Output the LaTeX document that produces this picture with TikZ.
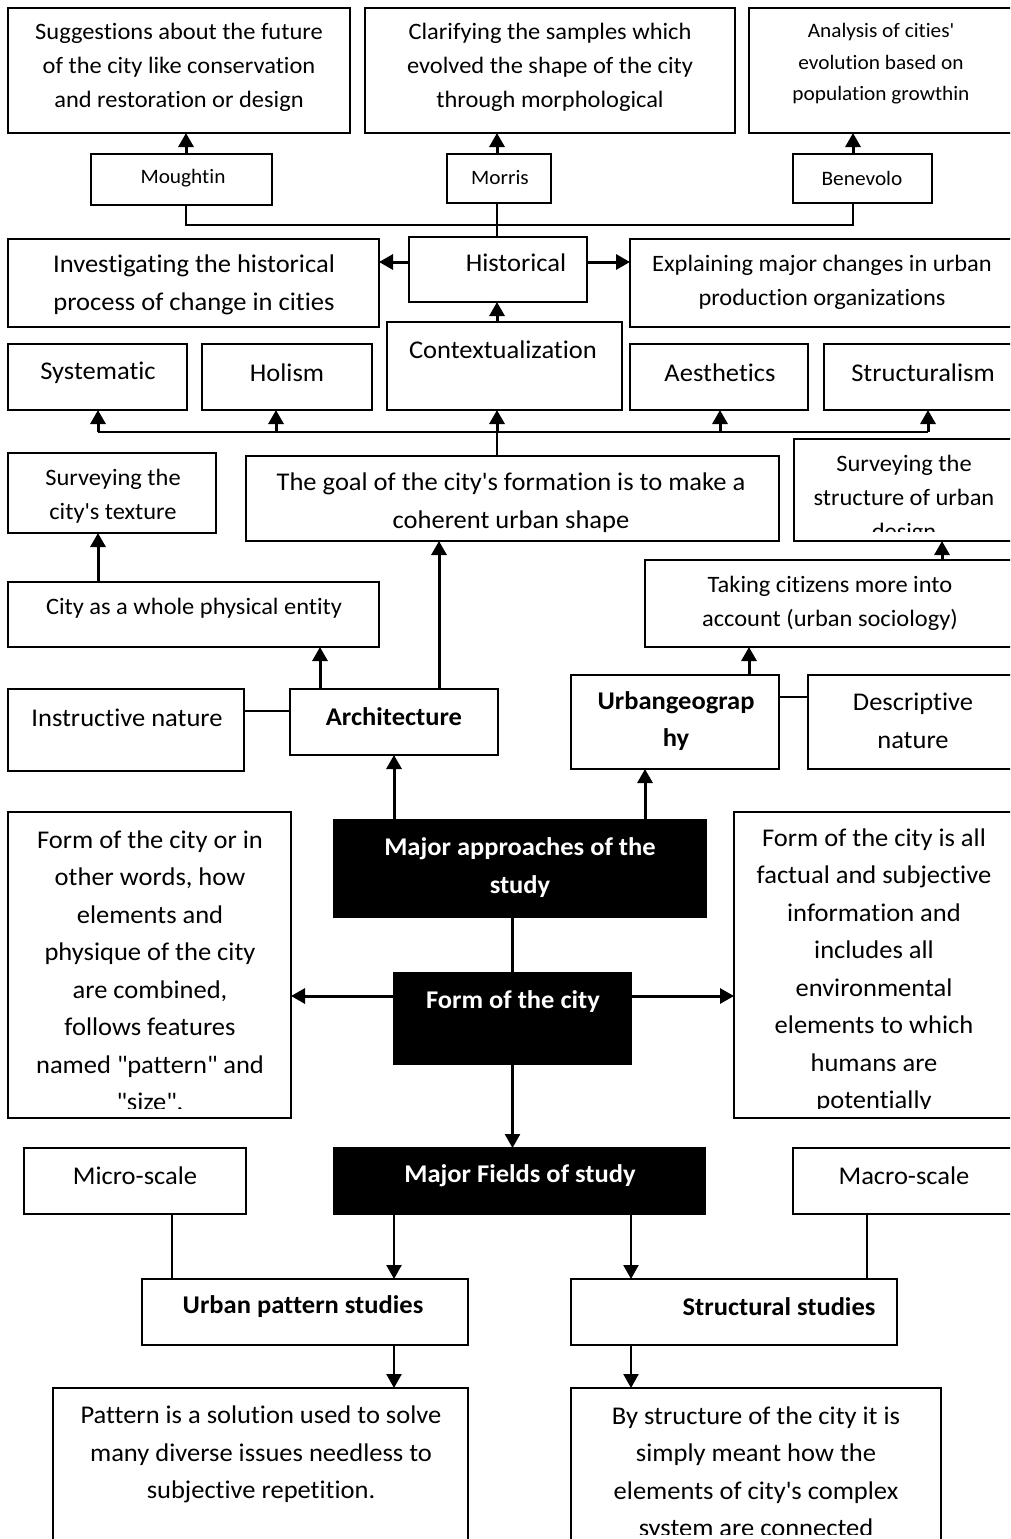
\documentclass[tikz,border=0pt]{standalone}
\usepackage{fontspec}
\setmainfont{Carlito}[FakeStretch=1.04,Ligatures={NoCommon}]
\usetikzlibrary{arrows.meta}
\newcommand\ap{\textquotesingle}
\newcommand\dq{\textquotedbl}
\newcommand\bx[6][]{\node[box,#1,minimum width={#5-#3},minimum height={#6-#4},anchor=north west] (#2) at (#3,#4) {};}
\tikzset{
 box/.style={draw=black, line width=1.8pt, fill=white, inner sep=0pt, outer sep=0pt, rectangle},
 blk/.style={fill=black},
 tx/.style={inner sep=0pt, align=center, text=black},
 tbig/.style={tx, font=\fontsize{25.5}{37.5}\selectfont},
 tbigb/.style={tx, font=\fontsize{25.5}{37.5}\selectfont\bfseries},
 twb/.style={tx, text=white, font=\fontsize{25.5}{38}\selectfont\bfseries},
 tmid/.style={tx, font=\fontsize{23.5}{34}\selectfont},
 tsml/.style={tx, font=\fontsize{20.5}{31.5}\selectfont},
 arr/.style={line width=3pt, -{Triangle[width=15pt,length=14pt]}},
 ln/.style={line width=1.4pt},
 busline/.style={line width=2.6pt},
}
\begin{document}
\begin{tikzpicture}[x=1pt,y=-1pt]
\useasboundingbox (0,0) rectangle (1010,1539);
\clip (0,0) rectangle (1010,1539);
% top row
\bx{sug}{8}{8}{350}{133}
\node[tmid] (tsug) at (179,67.5) {Suggestions about the future\\of the city like conservation\\and restoration or design};
\bx{cla}{365}{8}{735}{133}
\node[tmid] (tcla) at (550,67.5) {Clarifying the samples which\\evolved the shape of the city\\through morphological};
\bx{ana}{749}{8}{1025}{133}
\node[tsml] (tana) at (881,64) {Analysis of cities\ap\\evolution based on\\population growthin};
\bx{mou}{91}{154}{272}{205}
\node[tsml] (tmou) at (183,178) {Moughtin};
\bx{mor}{447}{154}{551}{203}
\node[tsml] (tmor) at (500,178) {Morris};
\bx{ben}{793}{154}{932}{203}
\node[tsml] (tben) at (862,178) {Benevolo};
\bx{his}{409}{237}{587}{302}
\node[tbig] (this) at (516,263) {Historical};
\bx{inv}{8}{239}{379}{327}
\node[tbig] (tinv) at (194,285) {Investigating the historical\\process of change in cities};
\bx{exp}{630}{239}{1025}{327}
\node[tmid] (texp) at (822,282.5) {Explaining major changes in urban\\production organizations};
% second row
\bx{sys}{8}{344}{187}{410}
\node[tbig] (tsys) at (98,373) {Systematic};
\bx{hol}{202}{344}{372}{410}
\node[tbig] (thol) at (287,373) {Holism};
\bx{con}{387}{322}{622}{410}
\node[tbig] (tcon) at (503,350) {Contextualization};
\bx{aes}{630}{344}{808}{410}
\node[tbig] (taes) at (720,373) {Aesthetics};
\bx{str}{824}{344}{1025}{410}
\node[tbig] (tstr) at (923,373) {Structuralism};
% third row
\bx{tex}{8}{453}{216}{533}
\node[tmid] (ttex) at (113,496.5) {Surveying the\\city\ap s texture};
\bx{goa}{246}{456}{779}{541}
\node[tbig] (tgoa) at (511,502.5) {The goal of the city\ap s formation is to make a\\coherent urban shape};
\bx{sud}{794}{439}{1025}{541}
\begin{scope}
\clip (794,439) rectangle (1025,531);
\node[tmid] (tsud) at (904,499) {Surveying the\\structure of urban\\design};
\end{scope}
\bx{cwh}{8}{582}{379}{647}
\node[tmid] (tcwh) at (194,608) {City as a whole physical entity};
\bx{tak}{645}{560}{1025}{647}
\node[tmid] (ttak) at (830,603.5) {Taking citizens more into\\account (urban sociology)};
\bx{ins}{8}{689}{244}{771}
\node[tbig] (tins) at (127,718) {Instructive nature};
\bx{arc}{290}{689}{498}{755}
\node[tbigb] (tarc) at (394,717) {Architecture};
\bx{urb}{571}{675}{779}{769}
\node[tbigb] (turb) at (676,721) {Urbangeograp\\hy};
\bx{des}{808}{675}{1025}{769}
\node[tbig] (tdes) at (913,721) {Descriptive\\nature};
% middle
\bx[blk]{map}{334}{820}{706}{917}
\node[twb] (tmap) at (520,867.5) {Major approaches of the\\study};
\bx{fl}{8}{812}{291}{1118}
\begin{scope}
\clip (8,812) rectangle (291,1108);
\node[tbig] (tfl) at (150,970.5) {Form of the city or in\\other words, how\\elements and\\physique of the city\\are combined,\\follows features\\named \dq pattern\dq{} and\\\dq size\dq.};
\end{scope}
\bx{fr}{734}{812}{1025}{1118}
\begin{scope}
\clip (734,812) rectangle (1025,1108);
\node[tbig] (tfr) at (874,970.5) {Form of the city is all\\factual and subjective\\information and\\includes all\\environmental\\elements to which\\humans are\\potentially};
\end{scope}
\bx[blk]{foc}{394}{973}{631}{1064}
\node[twb] (tfoc) at (513,1002) {Form of the city};
% bottom
\bx{mic}{24}{1148}{246}{1214}
\node[tbig] (tmic) at (135,1176) {Micro-scale};
\bx[blk]{mfs}{334}{1148}{705}{1214}
\node[twb] (tmfs) at (520,1176) {Major Fields of study};
\bx{mac}{793}{1148}{1025}{1214}
\node[tbig] (tmac) at (904,1176) {Macro-scale};
\bx{ups}{142}{1279}{468}{1345}
\node[tbigb] (tups) at (303,1307) {Urban pattern studies};
\bx{sst}{571}{1279}{897}{1345}
\node[tbigb] (tsst) at (779,1307) {Structural studies};
\bx{pat}{53}{1388}{468}{1560}
\node[tbig] (tpat) at (261,1454.5) {Pattern is a solution used to solve\\many diverse issues needless to\\subjective repetition.};
\bx{bys}{571}{1388}{941}{1560}
\begin{scope}
\clip (571,1388) rectangle (941,1534);
\node[tbig] (tbys) at (756,1473.5) {By structure of the city it is\\simply meant how the\\elements of city\ap s complex\\system are connected};
\end{scope}
% ---------- connectors ----------
\draw[arr] ([xshift=4.5pt]mou.north) -- ([xshift=4.5pt]mou.north |- sug.south);
\draw[arr] ([xshift=-2pt]mor.north) -- ([xshift=-2pt]mor.north |- cla.south);
\draw[arr] ([xshift=-9.5pt]ben.north) -- ([xshift=-9.5pt]ben.north |- ana.south);
\coordinate (hbus) at (0,225);
\draw[line width=2.2pt] ([xshift=4.5pt]mou.south) -- ([xshift=4.5pt]mou.south |- hbus) -- ([xshift=-9.5pt]ben.south |- hbus) -- ([xshift=-9.5pt]ben.south);
\draw[ln] ([xshift=-2pt]mor.south) -- ([xshift=-2pt]mor.south |- his.north);
\draw[arr] ([yshift=7.5pt]his.west) -- ([yshift=7.5pt]his.west -| inv.east);
\draw[arr] ([yshift=7.5pt]his.east) -- ([yshift=7.5pt]his.east -| exp.west);
\draw[arr] ([xshift=-7.5pt]con.north) -- ([xshift=-7.5pt]con.north |- his.south);
% bus of second row
\coordinate (sbus) at (0,432);
\draw[ln] ([xshift=-15.5pt]goa.north) -- ([xshift=-15.5pt]goa.north |- sbus);
\draw[busline] ([xshift=0.5pt]sys.south |- sbus) -- ([xshift=3.5pt]str.south |- sbus);
\draw[arr] ([xshift=0.5pt]sys.south |- sbus) -- ([xshift=0.5pt]sys.south);
\draw[arr] ([xshift=-11pt]hol.south |- sbus) -- ([xshift=-11pt]hol.south);
\draw[arr] ([xshift=-7.5pt]con.south |- sbus) -- ([xshift=-7.5pt]con.south);
\draw[arr] ([xshift=1pt]aes.south |- sbus) -- ([xshift=1pt]aes.south);
\draw[arr] ([xshift=3.5pt]str.south |- sbus) -- ([xshift=3.5pt]str.south);
% third row
\draw[arr] ([xshift=-14pt]tex.south |- cwh.north) -- ([xshift=-14pt]tex.south);
\draw[arr] ([xshift=-74pt]arc.north) -- ([xshift=-74pt]arc.north |- cwh.south);
\draw[arr] ([xshift=45pt]arc.north) -- ([xshift=45pt]arc.north |- goa.south);
\draw[arr] ([xshift=74pt]urb.north) -- ([xshift=74pt]urb.north |- tak.south);
\draw[arr] ([xshift=32.5pt]sud.south |- tak.north) -- ([xshift=32.5pt]sud.south);
\draw[ln] ([yshift=11pt]arc.west) -- ([yshift=11pt]arc.west -| ins.east);
\draw[ln] ([yshift=25pt]urb.east) -- ([yshift=25pt]urb.east -| des.west);
% middle
\draw[arr] (arc.south |- map.north) -- (arc.south);
\draw[arr] ([xshift=-30pt]urb.south |- map.north) -- ([xshift=-30pt]urb.south);
\draw[line width=2.2pt] (foc.north |- map.south) -- (foc.north);
\draw[arr] ([yshift=22.5pt]foc.west) -- ([yshift=22.5pt]foc.west -| fl.east);
\draw[arr] ([yshift=22.5pt]foc.east) -- ([yshift=22.5pt]foc.east -| fr.west);
\draw[arr, line width=2.4pt] (foc.south) -- (foc.south |- mfs.north);
% bottom
\draw[arr, line width=2.4pt] ([xshift=-125.5pt]mfs.south) -- ([xshift=-125.5pt]mfs.south |- ups.north);
\draw[arr, line width=2.4pt] ([xshift=111.5pt]mfs.south) -- ([xshift=111.5pt]mfs.south |- sst.north);
\draw[ln] ([xshift=37pt]mic.south) -- ([xshift=37pt]mic.south |- ups.north);
\draw[ln] ([xshift=-42pt]mac.south) -- ([xshift=-42pt]mac.south |- sst.north);
\draw[arr, line width=2.4pt] ([xshift=89pt]ups.south) -- ([xshift=89pt]ups.south |- pat.north);
\draw[arr, line width=2.4pt] ([xshift=-103pt]sst.south) -- ([xshift=-103pt]sst.south |- bys.north);
\end{tikzpicture}
\end{document}
